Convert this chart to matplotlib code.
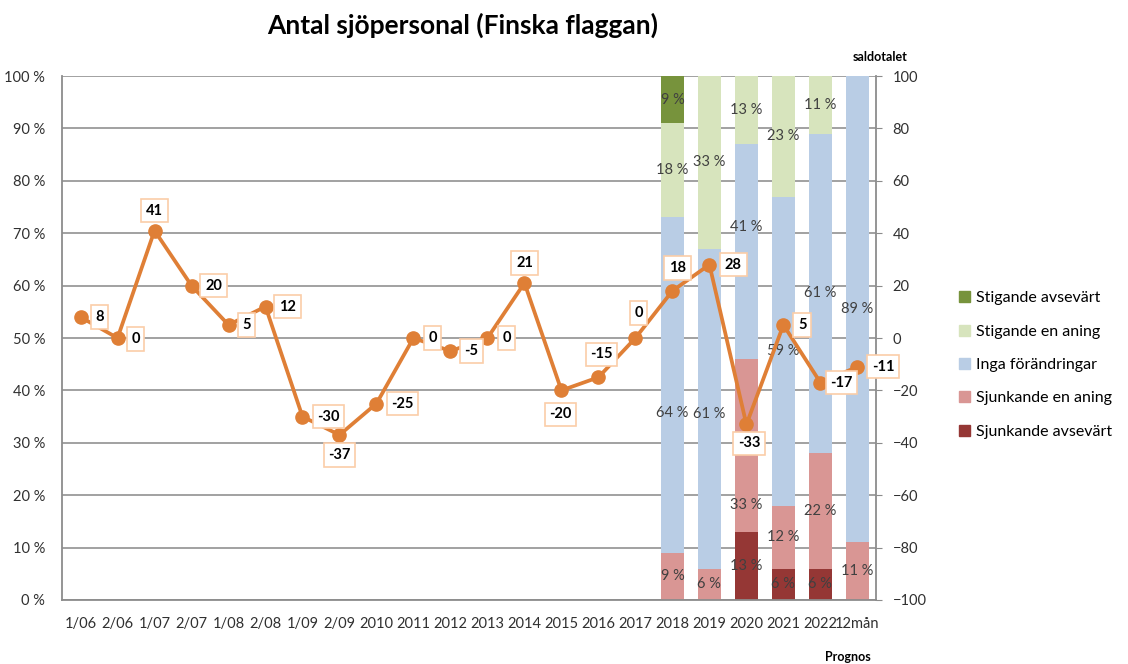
import matplotlib.pyplot as plt
import numpy as np
from matplotlib.patches import Patch

plt.rcParams["font.family"] = ["Lato", "DejaVu Sans"]

periods = ["1/06", "2/06", "1/07", "2/07", "1/08", "2/08", "1/09", "2/09", "2010", "2011",
           "2012", "2013", "2014", "2015", "2016", "2017", "2018", "2019", "2020", "2021",
           "2022", "12mån"]
balance = [8, 0, 41, 20, 5, 12, -30, -37, -25, 0, -5, 0, 21, -20, -15, 0, 18, 28, -33, 5, -17, -11]

# survey shares for the last six periods (bottom to top)
bar_periods = ["2018", "2019", "2020", "2021", "2022", "12mån"]
sjunkande_avsevart = [0, 0, 13, 6, 6, 0]
sjunkande_aning = [9, 6, 33, 12, 22, 11]
inga_forandringar = [64, 61, 41, 59, 61, 89]
stigande_aning = [18, 33, 13, 23, 11, 0]
stigande_avsevart = [9, 0, 0, 0, 0, 0]

series = [
    ("Sjunkande avsevärt", sjunkande_avsevart, "#953735"),
    ("Sjunkande en aning", sjunkande_aning, "#D99694"),
    ("Inga förändringar", inga_forandringar, "#B9CDE5"),
    ("Stigande en aning", stigande_aning, "#D7E4BD"),
    ("Stigande avsevärt", stigande_avsevart, "#77933C"),
]

# label placement around each line point (pixels)
label_offsets = [(19, 0), (18, -1), (0, 20), (22, 0), (18, 0), (22, 0), (26, 0), (0, -20),
                 (26, 0), (19, 0), (21, 0), (19, 0), (0, 20), (-1, -24), (3, 23), (3, 25),
                 (5, 23), (24, 0), (3, -19), (19, 0), (21, 0), (26, 0)]
# percentage labels moved away from the line
pct_nudge = {("2018", 2): -5.3, ("2019", 2): -1.0, ("2020", 2): 4.7, ("2020", 1): -11.4}

fig = plt.figure(figsize=(11.28, 6.64), dpi=100)
ax = fig.add_axes([0.055, 0.0964, 0.7215, 0.7891])
x = np.arange(len(periods))
bx = np.array([periods.index(p) for p in bar_periods])

bottom = np.zeros(len(bar_periods))
for k, (name, vals, color) in enumerate(series):
    vals = np.array(vals, dtype=float)
    ax.bar(bx, vals, 0.64, bottom=bottom, color=color, zorder=2)
    for i, v in enumerate(vals):
        if v > 0:
            y = bottom[i] + v / 2 + pct_nudge.get((bar_periods[i], k), 0)
            ax.text(bx[i], y, f"{v:.0f} %", ha="center", va="center", fontsize=10.5,
                    color="#404040", zorder=3)
    bottom += vals

ax.set_xlim(-0.5, len(periods) - 0.5)
ax.set_ylim(0, 100)
ax.set_yticks(range(0, 101, 10))
ax.set_yticklabels([f"{v} %" for v in range(0, 101, 10)])
ax.set_xticks(x)
ax.set_xticklabels(periods)
ax.grid(axis="y", color="#9A9A9A", linewidth=1.3)
ax.set_axisbelow(True)
ax.tick_params(axis="both", length=0, labelsize=10.5, colors="#303030")
ax.tick_params(axis="x", pad=12)
ax.tick_params(axis="y", pad=12)
ax.spines["top"].set_visible(False)
for side in ["left", "right", "bottom"]:
    ax.spines[side].set_color("#8C8C8C")
    ax.spines[side].set_linewidth(1.3)

ax2 = ax.twinx()
ax2.set_ylim(-100, 100)
ax2.set_yticks(range(-100, 101, 20))
ax2.tick_params(axis="y", length=4, color="#8C8C8C", labelsize=10.5, colors="#303030", pad=8)
for s in ax2.spines.values():
    s.set_visible(False)
ax2.plot(x, balance, color="#DF7F36", linewidth=2.7, marker="o", markersize=9.5, zorder=4)
for xi, v, (dx, dy) in zip(x, balance, label_offsets):
    ax2.annotate(str(v), (xi, v), xytext=(dx, dy), textcoords="offset pixels",
                 ha="center", va="center", fontsize=10.5, fontweight="bold", color="black",
                 bbox=dict(boxstyle="square,pad=0.32", fc="white", ec="#FBCDA8", lw=1.2),
                 zorder=5)

fig.text(0.41, 0.962, "Antal sjöpersonal (Finska flaggan)", ha="center", va="center",
         fontsize=19, fontweight="bold")
fig.text(0.78, 0.914, "saldotalet", ha="center", va="center", fontsize=9, fontweight="bold")
fig.text(0.752, 0.011, "Prognos", ha="center", va="center", fontsize=9, fontweight="bold")

handles = [Patch(color=c, label=n) for n, _, c in reversed(series)]
fig.legend(handles=handles, loc="upper left", bbox_to_anchor=(0.837, 0.583), frameon=False,
           fontsize=11.5, handlelength=0.7, handleheight=0.7, handletextpad=0.4,
           labelspacing=1.2)

fig.savefig("out.png", dpi=100)
